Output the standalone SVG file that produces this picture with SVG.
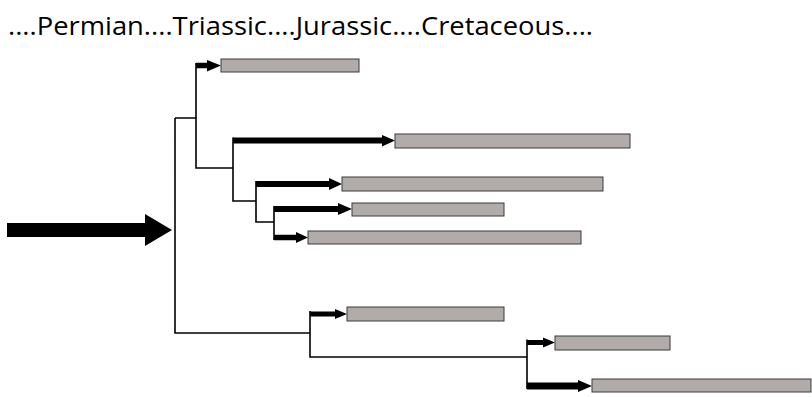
<svg xmlns="http://www.w3.org/2000/svg" width="812" height="397" viewBox="0 0 812 397">
<style>
.bar{fill:#b1acaa;stroke:#3a3a3a;stroke-width:1}
.ln{fill:none;stroke:#000;stroke-width:1.6}
.ar{fill:#000}
.t{font-family:"Open Sans","Noto Sans",sans-serif;font-size:25px;fill:#000}
</style>
<rect width="812" height="397" fill="#fff"/>
<text class="t" x="8" y="35" textLength="585" lengthAdjust="spacingAndGlyphs">....Permian....Triassic....Jurassic....Cretaceous....</text>
<g id="connectors">
<path class="ln" d="M196,63 V168 H233 M175,118 H196 M175,118 V333 H310 M233,137.5 V201 H256 M256,181 V222 H274 M274,206 V240 M310,311 V357 H527 M527,339.5 V389"/>
<path class="ar" d="M7,223 H145 V214 L172,230 L145,246 V237 H7 Z"/>
<path class="ar" d="M196,62.7 H207 V60 L221,65.5 L207,71.5 V68.3 H196 Z"/>
<path class="ar" d="M233,137.5 H382 V135 L395,140.5 L382,146.5 V143.5 H233 Z"/>
<path class="ar" d="M256,181 H329 V178 L342,184 L329,190 V187 H256 Z"/>
<path class="ar" d="M274,206 H338 V203 L352,209 L338,215 V212 H274 Z"/>
<path class="ar" d="M274,234.7 H296 V232 L308,237.5 L296,243 V240.3 H274 Z"/>
<path class="ar" d="M310,311.5 H335 V309 L347,314 L335,319 V316.5 H310 Z"/>
<path class="ar" d="M527,340 H543 V337.5 L555,342.5 L543,347.5 V345 H527 Z"/>
<path class="ar" d="M527,382.5 H578 V380 L592,386 L578,392 V389.5 H527 Z"/>
</g>
<g id="bar1"><rect class="bar" x="221" y="59" width="138" height="13"/></g>
<g id="bar2"><rect class="bar" x="395" y="134" width="235" height="14"/></g>
<g id="bar3"><rect class="bar" x="342" y="177" width="261" height="14"/></g>
<g id="bar4"><rect class="bar" x="352" y="203" width="152" height="13"/></g>
<g id="bar5"><rect class="bar" x="308" y="231" width="273" height="13"/></g>
<g id="bar6"><rect class="bar" x="347" y="307" width="157" height="14"/></g>
<g id="bar7"><rect class="bar" x="555" y="336" width="115" height="14"/></g>
<g id="bar8"><rect class="bar" x="592" y="379" width="219" height="13"/></g>
</svg>
